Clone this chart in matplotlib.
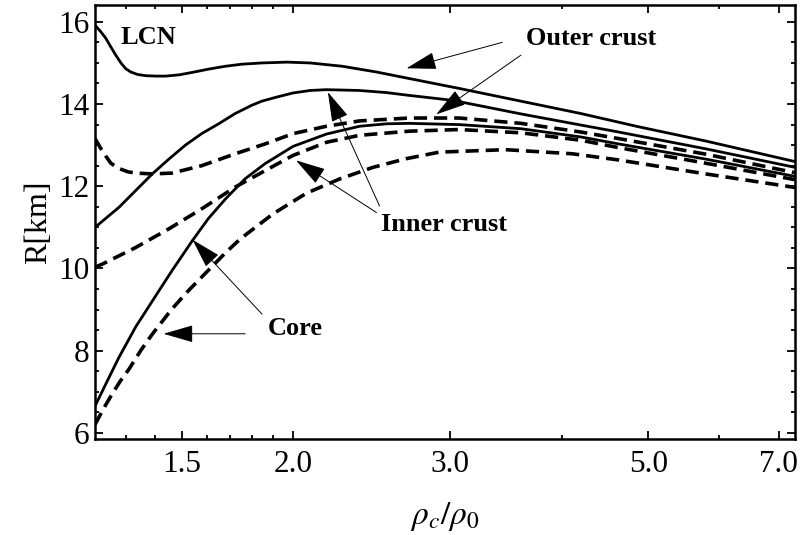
import matplotlib
matplotlib.use("Agg")
import matplotlib.pyplot as plt
from matplotlib.ticker import FixedLocator, NullFormatter, MultipleLocator

plt.rcParams['font.family'] = ['Liberation Serif', 'DejaVu Serif']
plt.rcParams['mathtext.fontset'] = 'stix'
plt.rcParams['lines.scale_dashes'] = False

# solid curves
xa = [1.2, 1.218, 1.234, 1.25, 1.266, 1.283, 1.299, 1.316, 1.339, 1.368, 1.403, 1.44, 1.49, 1.542, 1.609,
      1.68, 1.753, 1.845, 1.97, 2.09, 2.27, 2.48, 2.70, 3.07, 3.6, 4.2, 4.87, 5.8, 7.3]
ya = [15.92, 15.76, 15.60, 15.39, 15.19, 15.00, 14.86, 14.78, 14.72, 14.69, 14.68, 14.68, 14.71, 14.77, 14.85,
      14.92, 14.97, 15.00, 15.02, 15.00, 14.92, 14.78, 14.62, 14.38, 14.07, 13.77, 13.45, 13.10, 12.60]

xb = [1.2, 1.277, 1.391, 1.45, 1.515, 1.58, 1.651, 1.723, 1.798, 1.845, 1.918, 2.0, 2.09, 2.18, 2.375, 2.542,
      2.70, 3.02, 3.6, 4.2, 4.63, 5.8, 7.3]
yb = [11.0, 11.49, 12.30, 12.65, 13.0, 13.28, 13.52, 13.77, 13.97, 14.07, 14.17, 14.27, 14.33, 14.35, 14.33, 14.28,
      14.21, 14.09, 13.76, 13.49, 13.32, 12.91, 12.46]

xc = [1.2, 1.234, 1.276, 1.333, 1.403, 1.464, 1.543, 1.607, 1.68, 1.767, 1.861, 2.0, 2.18, 2.375, 2.55, 2.70,
      3.07, 3.6, 4.2, 4.63, 5.8, 7.3]
yc = [6.65, 7.19, 7.83, 8.58, 9.33, 9.95, 10.68, 11.21, 11.69, 12.18, 12.55, 12.97, 13.27, 13.46, 13.52, 13.53,
      13.50, 13.40, 13.20, 13.03, 12.66, 12.24]

# dashed curves
xd1 = [1.2, 1.218, 1.234, 1.25, 1.277, 1.307, 1.333, 1.391, 1.463, 1.58, 1.723, 1.861, 2.0, 2.18, 2.375, 2.70,
       3.07, 3.6, 4.2, 4.63, 5.8, 7.3]
yd1 = [13.16, 12.92, 12.73, 12.56, 12.43, 12.35, 12.32, 12.30, 12.32, 12.50, 12.79, 13.03, 13.28, 13.46, 13.59, 13.66,
       13.66, 13.53, 13.32, 13.16, 12.78, 12.33]

xd2 = [1.2, 1.224, 1.333, 1.451, 1.58, 1.723, 1.861, 2.0, 2.18, 2.375, 2.70, 3.07, 3.6, 4.2, 4.63, 5.8, 7.3]
yd2 = [10.03, 10.11, 10.51, 10.96, 11.45, 11.98, 12.38, 12.75, 13.07, 13.24, 13.34, 13.38, 13.30, 13.12, 12.94, 12.56,
       12.16]

xd3 = [1.2, 1.226, 1.253, 1.281, 1.31, 1.35, 1.391, 1.463, 1.527, 1.68, 1.746, 1.90, 2.07, 2.257, 2.458, 2.677,
       2.916, 3.46, 4.11, 4.63, 5.8, 7.3]
yd3 = [6.20, 6.58, 6.93, 7.26, 7.55, 8.0, 8.40, 9.01, 9.46, 10.38, 10.72, 11.33, 11.83, 12.18, 12.46, 12.67,
       12.83, 12.89, 12.79, 12.64, 12.30, 11.97]

fig = plt.figure(figsize=(8.04, 5.35), dpi=100)
ax = fig.add_axes([95/804, 1-439/535, (795-95)/804, (439-5)/535])

for x, y in [(xa, ya), (xb, yb), (xc, yc)]:
    ax.plot(x, y, color='k', lw=2.0, solid_capstyle='butt', solid_joinstyle='round')
for x, y in [(xd1, yd1), (xd2, yd2), (xd3, yd3)]:
    ax.plot(x, y, color='k', lw=2.6, dashes=(9.5, 5.0), dash_capstyle='butt')

ax.set_xscale('log')
ax.set_xlim(1.2, 7.3)
ax.set_ylim(5.85, 16.41)

ax.xaxis.set_major_locator(FixedLocator([1.5, 2.0, 3.0, 5.0, 7.0]))
ax.set_xticklabels(['1.5', '2.0', '3.0', '5.0', '7.0'])
ax.xaxis.set_minor_locator(FixedLocator([1.3, 1.4, 1.6, 1.7, 1.8, 1.9, 4.0, 6.0]))
ax.xaxis.set_minor_formatter(NullFormatter())
ax.yaxis.set_major_locator(MultipleLocator(2))
ax.yaxis.set_minor_locator(MultipleLocator(0.5))

ax.tick_params(which='both', direction='in', top=True, right=True, labelsize=22.5, width=1.3)
ax.tick_params(which='major', length=6)
ax.tick_params(which='minor', length=3)
ax.tick_params(axis='x', pad=8)
ax.tick_params(axis='y', pad=4)
for s in ax.spines.values():
    s.set_linewidth(1.8)

ax.set_xlabel(r'$\rho_c/\rho_0$', fontsize=24, labelpad=15)
ax.set_ylabel('R[km]', fontsize=23, labelpad=4)

ax.text(1.378, 15.63, 'LCN', fontsize=19, fontweight='bold', ha='center', va='center')
ax.text(4.31, 15.60, 'Outer crust', fontsize=19, fontweight='bold', ha='center', va='center')
ax.text(2.954, 11.06, 'Inner crust', fontsize=19, fontweight='bold', ha='center', va='center')
ax.text(2.01, 8.53, 'Core', fontsize=19, fontweight='bold', ha='center', va='center')

arrows = [
    ((3.43, 15.50), (2.68, 14.87)),
    ((3.60, 15.19), (2.894, 13.75)),
    ((2.50, 11.52), (2.188, 14.29)),
    ((2.48, 11.36), (2.015, 12.63)),
    ((1.846, 8.89), (1.543, 10.70)),
    ((1.768, 8.41), (1.432, 8.41)),
]
for tail, tip in arrows:
    ax.annotate('', xy=tip, xytext=tail,
                arrowprops=dict(arrowstyle='-|>,head_length=1.9,head_width=0.55',
                                mutation_scale=10, lw=0.7, color='k',
                                shrinkA=0, shrinkB=0))

fig.savefig('out.png', dpi=100)
